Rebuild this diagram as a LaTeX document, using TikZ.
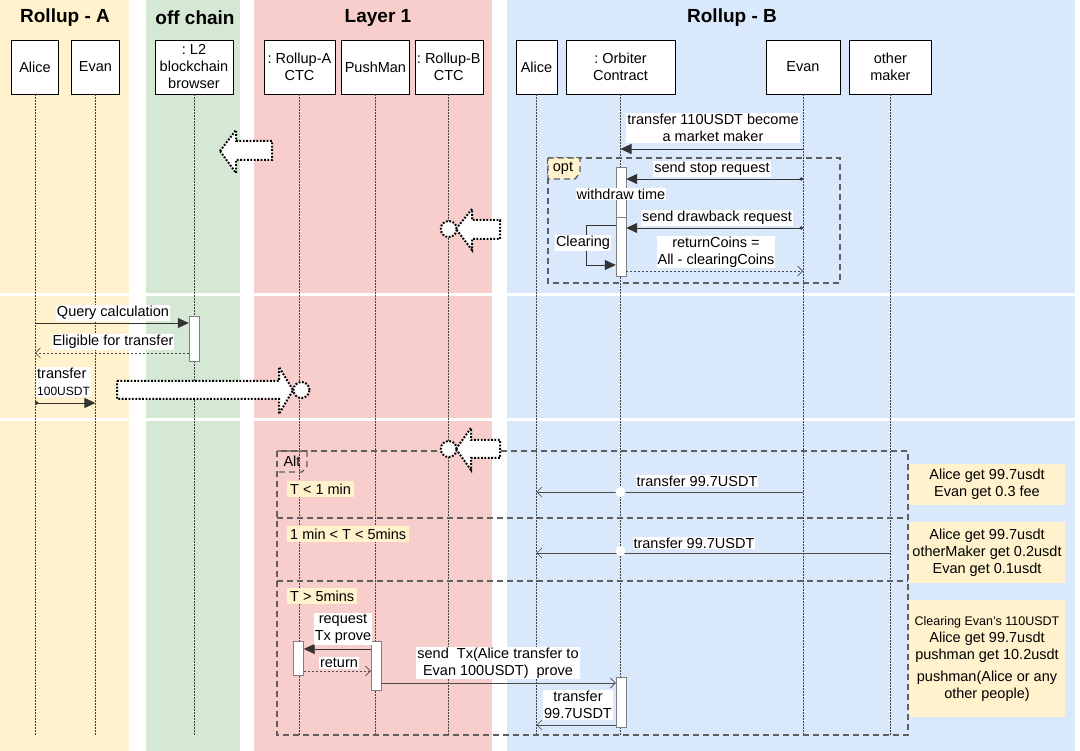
\documentclass[tikz,border=0pt]{standalone}
\usepackage{fontspec}
\setmainfont{Liberation Sans}
\usetikzlibrary{positioning}
\usetikzlibrary{arrows.meta}

\definecolor{ylw}{HTML}{FFF2CC}
\definecolor{grn}{HTML}{D5E8D4}
\definecolor{pnk}{HTML}{F8CECC}
\definecolor{blu}{HTML}{DAE8FC}
\definecolor{frm}{HTML}{5F5F5F}

\begin{document}
\begin{tikzpicture}
      [ x=1pt, y=-1pt
        , every node/.style={font=\fontsize{14.5}{17}\selectfont, inner sep=1.5pt}
        , head/.style={font=\fontsize{19}{22}\selectfont\bfseries}
        , box/.style={draw, fill=white, minimum height=54pt, align=center, inner sep=1pt}
        , life/.style={draw=black!75, line width=0.7pt, dash pattern=on 1.5pt off 1.5pt}
        , act/.style={draw=black!50, fill=white, minimum width=10pt, inner sep=0pt}
        , lbl/.style={fill=white, align=center, inner sep=1pt}
        , cond/.style={fill=ylw, inner sep=3pt}
        , note/.style={fill=ylw, align=center, minimum width=156pt}
        , frame/.style={draw=frm, line width=1.4pt, dash pattern=on 6pt off 4pt}
        , hollow/.style={draw, fill=white, line width=2pt, dash pattern=on 1.8pt off 1.6pt}
        , msg/.style={draw=black!80, line width=0.8pt, -{Triangle[length=11pt,width=10pt]}}
        , dmsg/.style={msg, {Circle[length=3.5pt]}-{Triangle[length=11pt,width=10pt]}}
        , ans/.style={draw=black!70, line width=0.7pt, -{Straight Barb[length=5pt,width=10pt]}}
      ]
      \useasboundingbox (0,0) rectangle (1080,751);
      \fill[ylw] (0,0) rectangle (129,751);
      \fill[grn] (146,0) rectangle (240,751);
      \fill[pnk] (254,0) rectangle (492,751);
      \fill[blu] (507,0) rectangle (1075,751);
      \draw[white, line width=3pt] (0,295) -- (1080,295) (0,420) -- (1080,420);

      \node[head] (hA) at (65,18) {Rollup - A};
      \node[head] (hO) at (195,18) {off chain};
      \node[head] (hL) at (378,18) {Layer 1};
      \node[head] (hB) at (732,18) {Rollup - B};

      \node[box, minimum width=47pt] (a1) at (35,67) {Alice};
      \node[box, minimum width=48pt, right=12.5pt of a1] (e1) {Evan};
      \node[box, minimum width=78pt] (l2) at (194,67) {:\ L2\\blockchain\\browser};
      \node[box, minimum width=71pt] (ra) at (299.5,67) {:\ Rollup-A\\CTC};
      \node[box, minimum width=68pt, right=6pt of ra] (pm) {PushMan};
      \node[box, minimum width=68pt, right=5pt of pm] (rb) {:\ Rollup-B\\CTC};
      \node[box, minimum width=41pt] (a2) at (536.5,67) {Alice};
      \node[box, minimum width=109pt] (orb) at (620.5,67) {:\ Orbiter\\Contract};
      \node[box, minimum width=74pt] (e2) at (803,67) {Evan};
      \node[box, minimum width=82pt, right=9pt of e2] (om) {other\\maker};

      \coordinate (bot) at (0,735);
      \draw[life] (a1.south) -- (a1.south |- bot);
      \draw[life] (e1.south) -- (e1.south |- bot);
      \draw[life] (l2.south) -- (l2.south |- bot);
      \draw[life] (ra.south) -- (ra.south |- bot);
      \draw[life] (pm.south) -- (pm.south |- bot);
      \draw[life] (rb.south) -- (rb.south |- bot);
      \draw[life] (a2.south) -- (a2.south |- bot);
      \draw[life] (orb.south) -- (orb.south |- bot);
      \draw[life] (e2.south) -- (e2.south |- bot);
      \draw[life] (om.south) -- (om.south |- bot);

      \draw[hollow] (220,151) -- (236,130) -- (236,141) -- (272,141) -- (272,160)
        -- (236,160) -- (236,173) -- cycle;
      \draw[hollow] (rb |- 0,229) circle[radius=8pt];
      \draw[hollow] (456,229) -- (472,209) -- (472,220) -- (500,220) -- (500,239)
        -- (472,239) -- (472,250) -- cycle;

      \node[lbl] (t110) at (713,128) {transfer 110USDT become\\a market maker};
      \draw[msg] (e2 |- 0,149) -- (orb |- 0,149);

      \draw[frame] (548,158) rectangle (840,283);
      \draw[frame, fill=ylw] (548,158) -- (580,158) -- (580,173) -- (575,179) -- (548,179) -- cycle;
      \node (opt) at (563,168) {opt};

      \node[act, minimum height=50pt] (b1) at (621,192) {};
      \node[act, minimum height=59pt] (b2) at (621,246.5) {};
      \draw[dmsg] (e2 |- 0,179) -- (b1.east |- 0,179);
      \node[lbl] (ssr) at (712,169) {send stop request};
      \node[lbl] (wt) at (621,194) {withdraw time};
      \draw[dmsg] (e2 |- 0,228) -- (b2.east |- 0,228);
      \node[lbl] (sdr) at (717,218) {send drawback request};
      \draw[msg] (b2.west |- 0,225) -- (586,225) -- (586,265) -- (b2.west |- 0,265);
      \node[lbl] (clr) at (583,243) {Clearing};
      \node[lbl] (rc) at (716,252) {returnCoins =\\All - clearingCoins};
      \draw[ans, dash pattern=on 2pt off 2pt] (b2.east |- 0,271) -- (e2 |- 0,271);

      \node[act, minimum height=45pt] (b3) at (194,338.5) {};
      \draw[msg] (a1 |- 0,323) -- (b3.west |- 0,323);
      \node[lbl] (qc) at (113,313) {Query calculation};
      \draw[ans, dash pattern=on 2pt off 2pt] (b3.west |- 0,353) -- (a1 |- 0,353);
      \node[lbl] (eft) at (113,342) {Eligible for transfer};
      \node[lbl, align=left, anchor=north west] (tr) at (36,367) {transfer\\{\fontsize{12}{13}\selectfont 100USDT}};
      \draw[dmsg] (a1 |- 0,403) -- (e1 |- 0,403);

      \draw[hollow] (117,381) -- (279,381) -- (279,367) -- (293,390) -- (279,414)
        -- (279,399) -- (117,399) -- cycle;
      \draw[hollow] (ra |- 0,390) ++(2,0) circle[radius=8pt];

      \draw[frame] (277,451) rectangle (908,735);
      \draw[frame] (277,518) -- (908,518);
      \draw[frame] (277,581) -- (908,581);
      \draw[frame] (277,451) -- (307,451) -- (307,466) -- (302,472) -- (277,472);
      \node (alt) at (292,461) {Alt};
      \draw[hollow] (rb |- 0,449) circle[radius=8pt];
      \draw[hollow] (456,449) -- (471,428) -- (471,440) -- (500,440) -- (500,458)
        -- (471,458) -- (471,470) -- cycle;

      \node[cond, anchor=west] (c1) at (287,489) {T < 1 min};
      \node[cond, anchor=west] (c2) at (287,534) {1 min < T < 5mins};
      \node[cond, anchor=west] (c3) at (287,596) {T > 5mins};

      \draw[ans] (e2 |- 0,492) -- (a2 |- 0,492);
      \fill[white] (orb |- 0,492) circle[radius=5pt];
      \node[lbl] (tx1) at (697,481) {transfer 99.7USDT};
      \draw[ans] (om |- 0,553) -- (a2 |- 0,553);
      \fill[white] (orb |- 0,551) circle[radius=5pt];
      \node[lbl] (tx2) at (694,543) {transfer 99.7USDT};

      \node[act, minimum height=49pt] (b4) at (376,665.5) {};
      \node[act, minimum height=34pt] (b5) at (298.5,658) {};
      \node[act, minimum height=50pt] (b6) at (621,702) {};
      \draw[msg] (b4.west |- 0,649) -- (b5.east |- 0,649);
      \node[lbl] (rq) at (343,629) {request\\Tx prove};
      \draw[ans, dash pattern=on 2pt off 2pt] (b5.east |- 0,671) -- (b4.west |- 0,671);
      \node[lbl] (rt) at (339,663) {return};
      \draw[ans] (b4.east |- 0,683) -- (b6.west |- 0,683);
      \node[lbl] (sd) at (498,663) {send\ \ Tx(Alice transfer to\\Evan 100USDT)\ \ prove};
      \draw[ans] (b6.west |- 0,725) -- (a2 |- 0,725);
      \node[lbl] (t997) at (578,705) {transfer\\99.7USDT};

      \node[note, minimum height=41pt] (n1) at (987,484.5) {Alice get 99.7usdt\\Evan get 0.3 fee};
      \node[note, minimum height=61pt] (n2) at (987,552.5) {Alice get 99.7usdt\\otherMaker get 0.2usdt\\Evan get 0.1usdt};
      \node[note, minimum height=117pt] (n3) at (987,658.5) {{\fontsize{12.5}{15}\selectfont Clearing Evan's 110USDT}\\Alice get 99.7usdt\\pushman get 10.2usdt\\[5pt]pushman(Alice or any\\other people)};

    \end{tikzpicture}
\end{document}
